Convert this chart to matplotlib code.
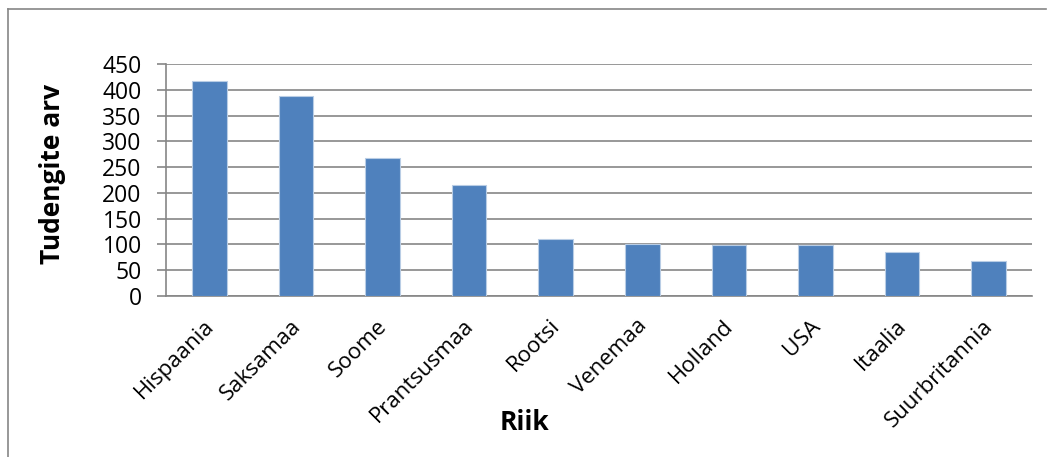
import matplotlib.pyplot as plt
from matplotlib.transforms import ScaledTranslation

plt.rcParams['font.family'] = ['Open Sans', 'DejaVu Sans']

riigid = ["Hispaania", "Saksamaa", "Soome", "Prantsusmaa", "Rootsi",
          "Venemaa", "Holland", "USA", "Itaalia", "Suurbritannia"]
tudengid = [417, 388, 267, 215, 110, 101, 99, 98, 86, 68]
y_ticks = [0, 50, 100, 150, 200, 250, 300, 350, 400, 450]

W, H = 1055, 457
fig = plt.figure(figsize=(W / 100, H / 100), dpi=100)

# plot area in pixels: x 166..1032, y 64..296
ax = fig.add_axes([166 / W, 1 - 296 / H, (1032 - 166) / W, (296 - 64) / H])

ax.bar(range(len(riigid)), tudengid, width=0.4, color="#4F81BD",
       edgecolor="#B9CDE5", linewidth=0.8, zorder=3)

ax.set_xlim(-0.5, len(riigid) - 0.5)
ax.set_ylim(0, 450)
ax.set_yticks(y_ticks)
ax.set_yticklabels([str(v) for v in y_ticks], fontsize=16.5)
ax.yaxis.grid(True, color="#868686", linewidth=1.2, zorder=0)

ax.set_xticks(range(len(riigid)))
ax.set_xticklabels(riigid, rotation=45, ha="right", va="top",
                   rotation_mode="anchor", fontsize=16)
ax.tick_params(axis="x", length=0, pad=14)
ax.tick_params(axis="y", length=6.5, width=1.2, color="#868686", pad=11)

# nudge the rotated labels a little to the left
shift = ScaledTranslation(-6 / 100, 0, fig.dpi_scale_trans)
for lbl in ax.get_xticklabels():
    lbl.set_transform(lbl.get_transform() + shift)

for side in ["top", "right"]:
    ax.spines[side].set_visible(False)
for side in ["left", "bottom"]:
    ax.spines[side].set_color("#868686")
    ax.spines[side].set_linewidth(1.2)

fig.text(52 / W, 1 - 174 / H, "Tudengite arv", rotation=90, fontsize=19,
         fontweight="bold", ha="center", va="center")
fig.text(525 / W, 1 - 422 / H, "Riik", fontsize=19, fontweight="bold",
         ha="center", va="center")

# outer chart frame (top and left visible)
fig.add_artist(plt.Line2D([8 / W, 1046 / W], [1 - 9 / H, 1 - 9 / H],
                          color="#868686", linewidth=1.2))
fig.add_artist(plt.Line2D([8 / W, 8 / W], [1 - 9 / H, 0],
                          color="#868686", linewidth=1.2))

fig.savefig("out.png", dpi=100)
